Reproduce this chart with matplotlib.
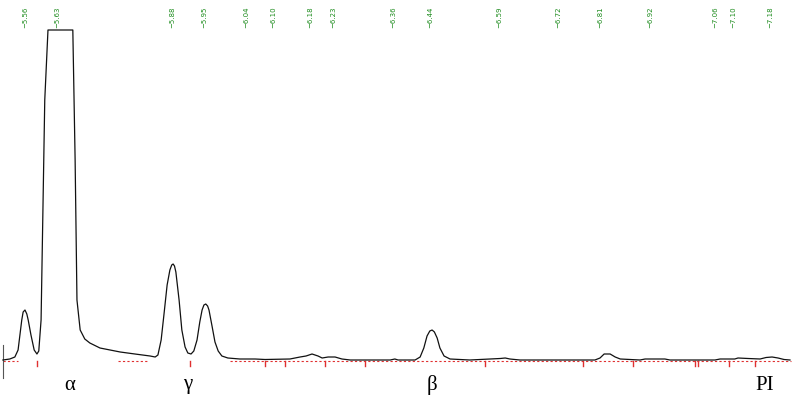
import numpy as np
import matplotlib
matplotlib.use("Agg")
import matplotlib.pyplot as plt

# retention time (min) and detector signal
trace_t = [5.512, 5.527, 5.538, 5.545, 5.549, 5.553, 5.556, 5.560, 5.564, 5.567,
           5.573, 5.580, 5.586, 5.590, 5.595, 5.599, 5.603, 5.610, 5.664, 5.669,
           5.673, 5.680, 5.690, 5.701, 5.723, 5.745, 5.767, 5.799, 5.832, 5.843,
           5.849, 5.856, 5.862, 5.869, 5.875, 5.879, 5.882, 5.885, 5.888, 5.895,
           5.901, 5.908, 5.914, 5.921, 5.927, 5.934, 5.940, 5.945, 5.949, 5.953,
           5.957, 5.960, 5.967, 5.973, 5.980, 5.988, 6.001, 6.027, 6.060, 6.082,
           6.136, 6.158, 6.171, 6.184, 6.197, 6.206, 6.219, 6.234, 6.249, 6.267,
           6.354, 6.364, 6.371, 6.408, 6.419, 6.427, 6.434, 6.440, 6.445, 6.450,
           6.456, 6.462, 6.471, 6.484, 6.527, 6.593, 6.604, 6.614, 6.636, 6.799,
           6.810, 6.819, 6.832, 6.843, 6.854, 6.897, 6.908, 6.951, 6.962, 7.060,
           7.071, 7.103, 7.110, 7.132, 7.158, 7.171, 7.184, 7.197, 7.210, 7.223]
trace_y = [0, 1, 3, 10, 25, 40, 48, 50, 46, 40,
           25, 10, 6, 9, 40, 150, 260, 330, 330, 200,
           60, 30, 21, 17, 12, 10, 8, 6, 4, 3,
           5, 20, 45, 75, 90, 95, 96, 94, 88, 60,
           30, 13, 7, 6, 9, 20, 38, 50, 55, 56,
           54, 50, 33, 18, 9, 4, 2, 1, 1, 0.5,
           1, 3, 4, 6, 4, 2, 3, 3, 1, 0,
           0, 1, 0, 0, 3, 12, 24, 29, 30, 28,
           22, 12, 4, 1, 0, 1.5, 2, 1, 0, 0,
           2, 6, 6, 3, 1, 0, 1, 1, 0, 0,
           1, 1, 2, 1.5, 1, 2.5, 3, 2, 0.5, 0]

# peak retention times printed above the trace
peak_times = [5.56, 5.63, 5.88, 5.95, 6.04, 6.10, 6.18, 6.23, 6.36, 6.44,
              6.59, 6.72, 6.81, 6.92, 7.06, 7.10, 7.18]

# integration boundaries and baselines
boundary_t = [5.586, 5.919, 6.082, 6.125, 6.212, 6.299, 6.560, 6.773,
              6.882, 7.017, 7.023, 7.090, 7.147]
baseline_segs = [(5.512, 5.545), (5.762, 5.827), (6.005, 7.225)]

# fraction names
frac_names = ["α", "γ", "β", "PI"]
frac_t = [5.658, 5.914, 6.445, 7.167]

fig = plt.figure(figsize=(7.98, 4.05), dpi=100)
ax = fig.add_axes([0, 0, 1, 1])
ax.set_xlim(5.5057, 7.2404)
ax.set_ylim(-45, 360)
ax.axis("off")

for a, b in baseline_segs:
    ax.plot([a, b], [-1, -1], color="#e03030", lw=0.8, ls=(0, (2, 2)))
for t in boundary_t:
    ax.plot([t, t], [-1, -6], color="#e03030", lw=1.0)
ax.plot([trace_t[0], trace_t[0]], [15, -18], color="#555555", lw=0.8)

ax.plot(trace_t, trace_y, color="#111111", lw=0.9)

for t in peak_times:
    ax.text(t, 332, "\u2212%.2f" % t, rotation=90, ha="center", va="bottom",
            fontsize=5, color="#1a8a1a")

for name, t in zip(frac_names, frac_t):
    ax.text(t, -25, name, ha="center", va="center", fontsize=15,
            family="Liberation Serif")

fig.savefig("out.png", dpi=100)
